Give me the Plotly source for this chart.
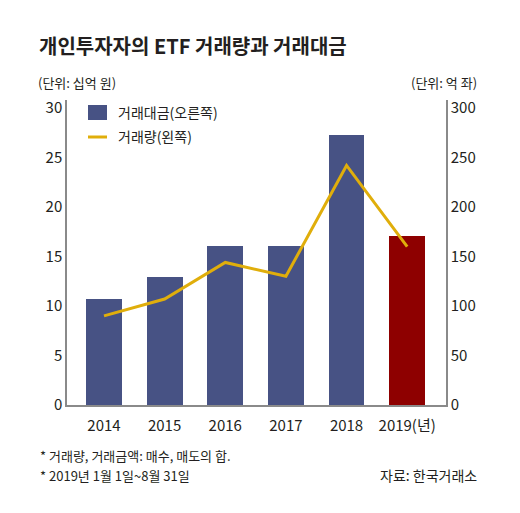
import plotly.graph_objects as go

years = ["2014", "2015", "2016", "2017", "2018", "2019"]
tick_labels = ["2014", "2015", "2016", "2017", "2018", "2019(년)"]
trade_value = [107, 129, 161, 161, 273, 171]      # 거래대금 (오른쪽 축)
trade_volume = [9.0, 10.7, 14.4, 13.0, 24.2, 16.0]  # 거래량 (왼쪽 축)
bar_colors = ["#475284"] * 5 + ["#8E0000"]
BAR_BLUE = "#475284"
LINE_GOLD = "#E0AE0B"

FONT = "Noto Sans CJK KR"
NUM_FONT = "Noto Sans CJK KR"
TXT = "#231f20"

L, R, T, B = 67, 74, 100, 108
W, H = 520, 513
pw, ph = W - L - R, H - T - B

def px(x):
    return (x - L) / pw

def py(y):
    return (H - B - y) / ph

x = list(range(len(years)))

fig = go.Figure()
fig.add_trace(go.Bar(
    x=x, y=trade_value, name="거래대금(오른쪽)",
    marker=dict(color=bar_colors, line=dict(width=0)),
    width=0.59, yaxis="y",
))
fig.add_trace(go.Scatter(
    x=x, y=trade_volume, name="거래량(왼쪽)", mode="lines",
    line=dict(color=LINE_GOLD, width=3), yaxis="y2",
))

top_l = 30 * ph / 297

axis_common = dict(showline=True, linecolor="#8a8a8a", linewidth=1.5,
                   showgrid=False, zeroline=False, ticks="",
                   tickfont=dict(size=15, family=NUM_FONT, color=TXT))

fig.update_layout(
    width=W, height=H,
    margin=dict(l=L, r=R, t=T, b=B),
    paper_bgcolor="white", plot_bgcolor="white",
    font=dict(family=FONT, color=TXT, size=15),
    showlegend=False,
    xaxis=dict(range=[-0.61, 5.64], tickvals=x, ticktext=tick_labels,
               ticklabelstandoff=6, **axis_common),
    yaxis=dict(side="right", range=[0, top_l * 10], tickvals=[0, 50, 100, 150, 200, 250, 300],
               **axis_common),
    yaxis2=dict(side="left", overlaying="y", range=[0, top_l],
                tickvals=[0, 5, 10, 15, 20, 25, 30], **axis_common),
    bargap=0,
)

# custom legend
fig.add_shape(type="rect", xref="paper", yref="paper",
              x0=px(88), x1=px(107), y0=py(120), y1=py(105),
              fillcolor=BAR_BLUE, line=dict(width=0))
fig.add_shape(type="line", xref="paper", yref="paper",
              x0=px(88), x1=px(107), y0=py(137), y1=py(137),
              line=dict(color=LINE_GOLD, width=3))

ann = [
    dict(text="<b>개인투자자의 ETF 거래량과 거래대금</b>", x=px(37), y=py(45), size=20, xa="left"),
    dict(text="(단위: 십억 원)", x=px(36), y=py(82), size=13, xa="left"),
    dict(text="(단위: 억 좌)", x=px(479), y=py(82), size=13, xa="right"),
    dict(text="거래대금(오른쪽)", x=px(116), y=py(112), size=14, xa="left"),
    dict(text="거래량(왼쪽)", x=px(116), y=py(136), size=14, xa="left"),
    dict(text="* 거래량, 거래금액: 매수, 매도의 합.", x=px(38), y=py(455), size=13, xa="left"),
    dict(text="* 2019년 1월 1일~8월 31일", x=px(38), y=py(475), size=13, xa="left"),
    dict(text="자료: 한국거래소", x=px(479), y=py(475), size=14, xa="right"),
]
for a in ann:
    fig.add_annotation(text=a["text"], x=a["x"], y=a["y"], xref="paper", yref="paper",
                       xanchor=a["xa"], yanchor="middle", showarrow=False,
                       font=dict(size=a["size"], family=FONT, color=TXT))

fig.write_html("out.html", config={"displayModeBar": False},
               post_script="document.body.style.margin='0';")
